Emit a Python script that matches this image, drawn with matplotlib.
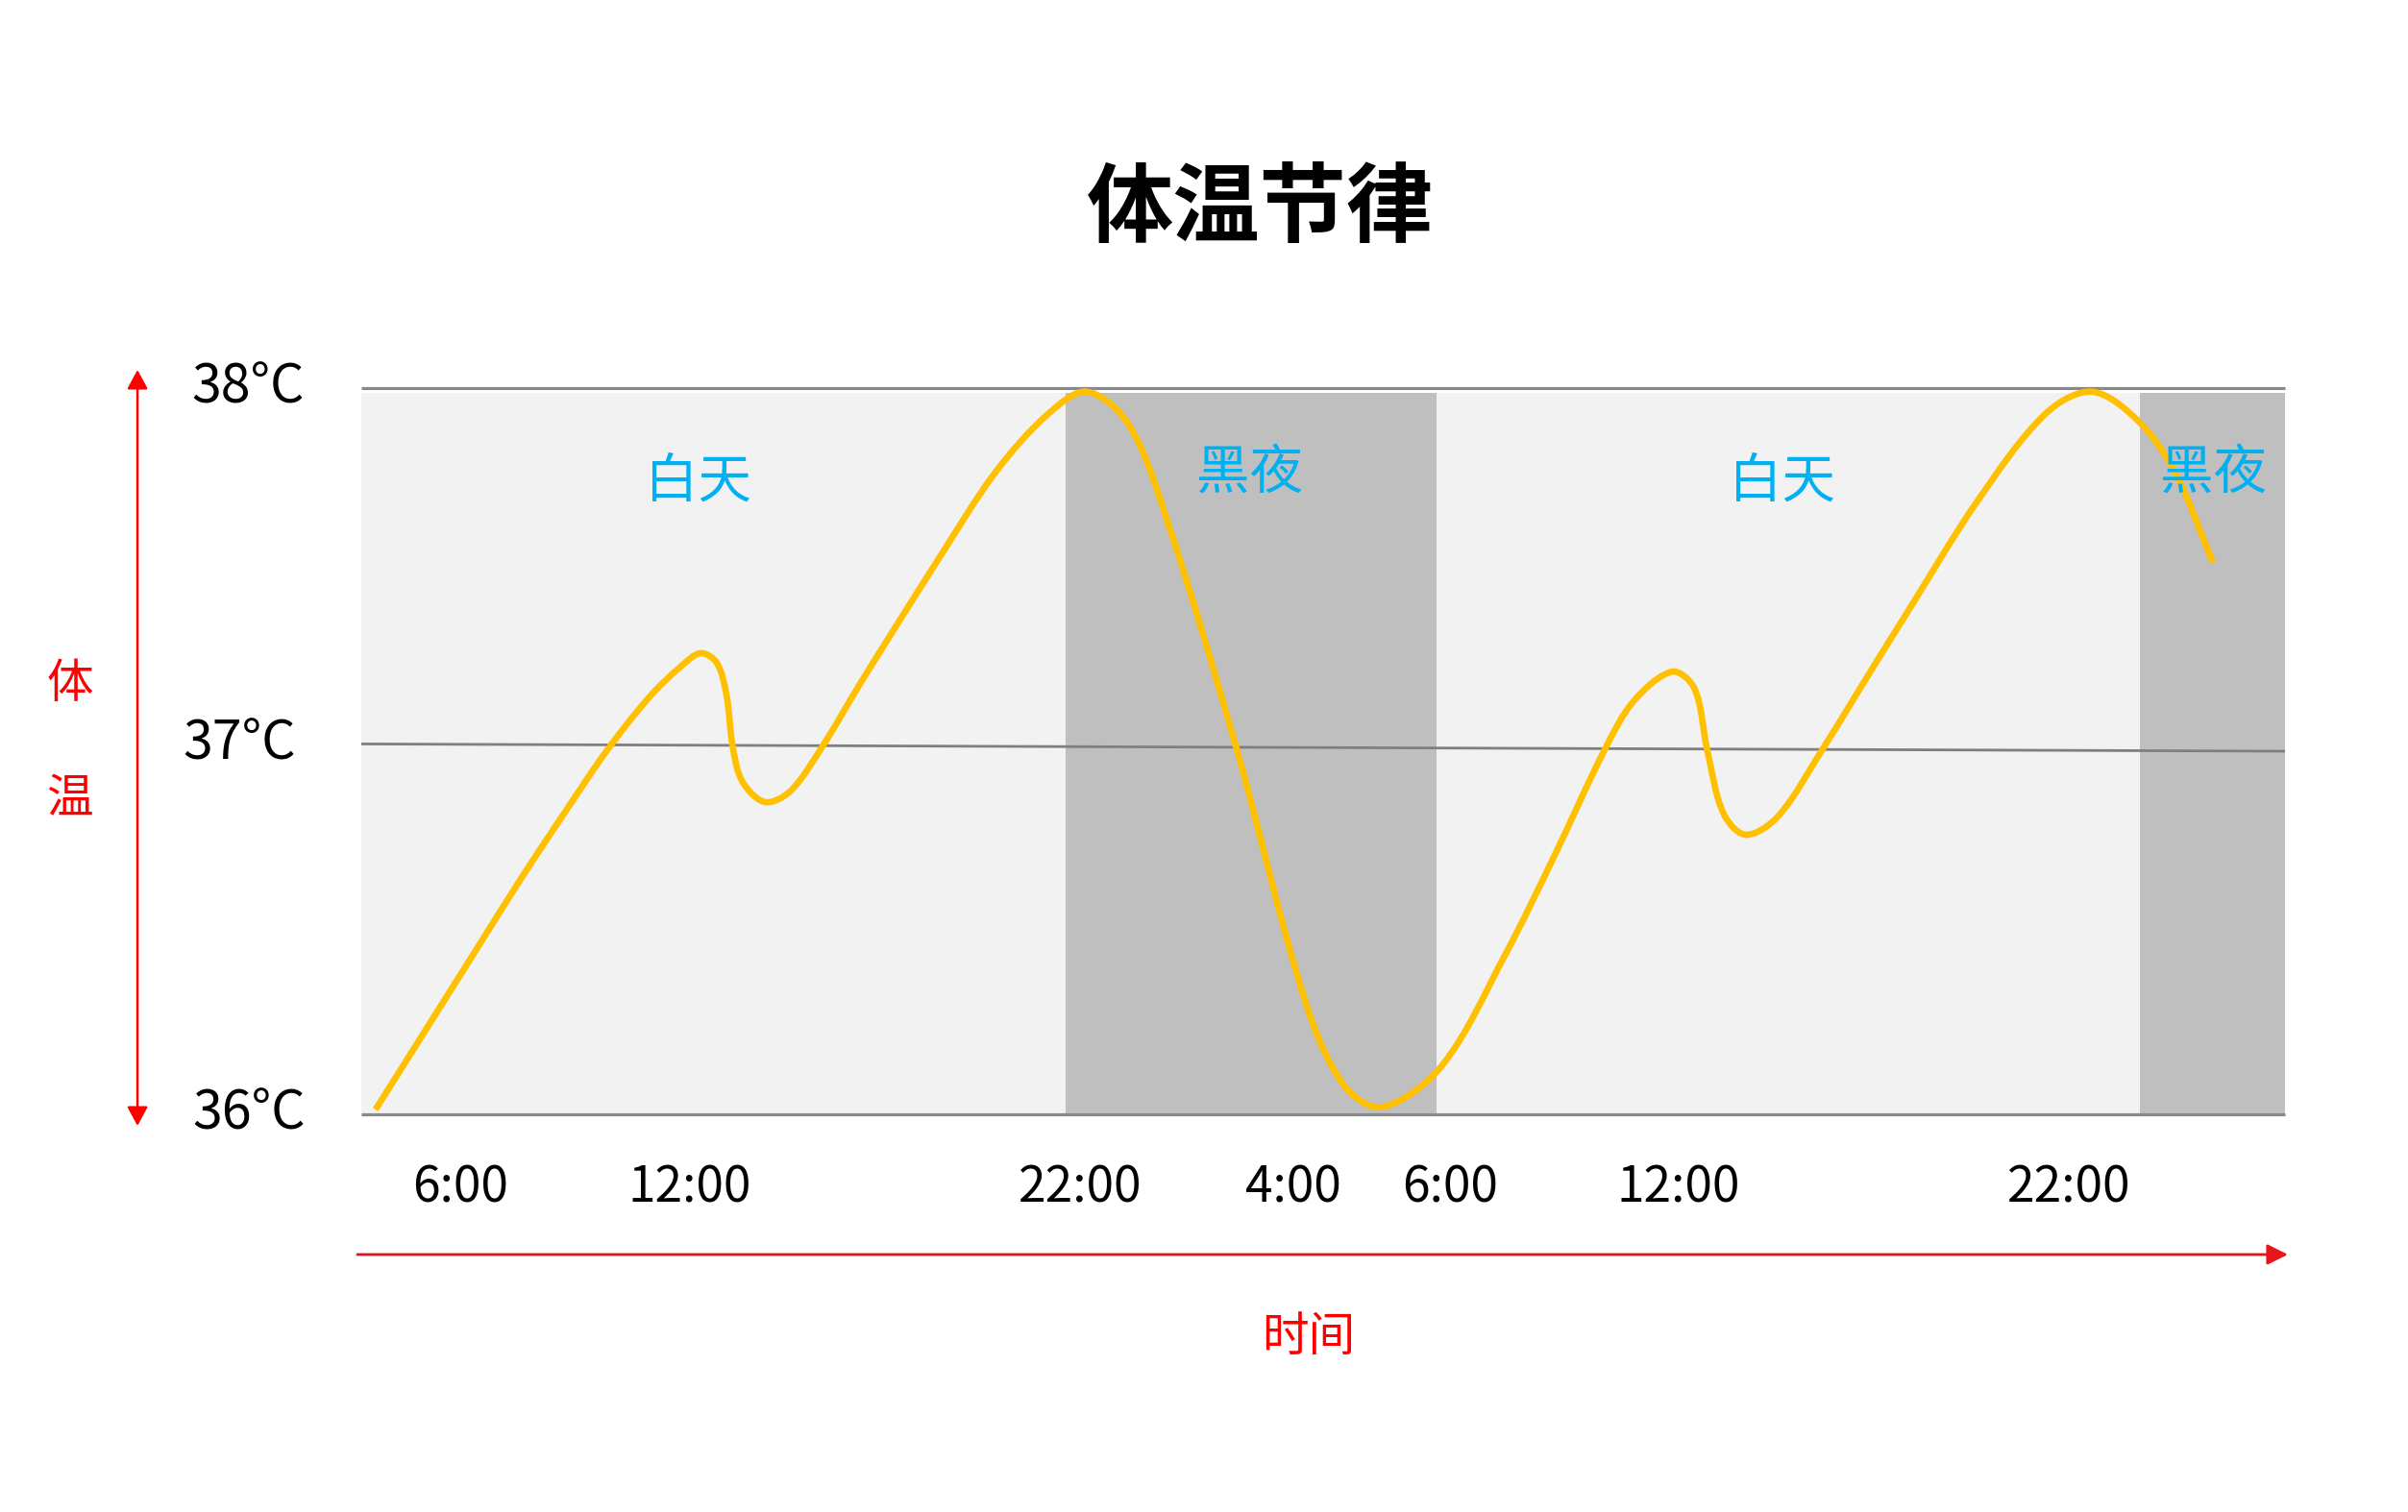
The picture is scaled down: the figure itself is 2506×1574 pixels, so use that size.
import numpy as np
import matplotlib
matplotlib.use('Agg')
import matplotlib.pyplot as plt
from matplotlib.path import Path
from matplotlib.patches import PathPatch, FancyArrowPatch

plt.rcParams['font.family'] = ['Noto Sans CJK SC', 'DejaVu Sans']

## 曲线关键点 (小时, 体温)
curve_hours = [3.80, 5.09, 6.34, 7.59, 8.84, 9.84, 10.93, 11.76, 12.26, 12.68,
               12.93, 13.09, 13.34, 13.93, 14.59, 15.43, 16.43, 18.45, 19.94, 21.31,
               22.31, 23.39, 24.38, 26.19, 27.99, 28.99, 29.98, 31.525, 33.19, 34.44,
               35.78, 36.53, 37.53, 38.11, 38.44, 38.86, 39.44, 40.28, 41.44, 42.78,
               43.61, 45.48, 47.25, 48.45, 49.65, 50.6, 51.6]
curve_temp = [36.013, 36.23, 36.44, 36.65, 36.85, 37.005, 37.15, 37.235, 37.27, 37.243,
              37.155, 37.014, 36.917, 36.86, 36.89, 37.014, 37.19, 37.53, 37.77, 37.93,
              37.99, 37.90, 37.64, 37.01, 36.31, 36.08, 36.02, 36.132, 36.44, 36.706,
              37.005, 37.138, 37.219, 37.173, 37.005, 36.83, 36.77, 36.82, 37.005, 37.235,
              37.376, 37.69, 37.93, 37.99, 37.91, 37.77, 37.52]

tick_hours = [6, 11.98, 22.13, 27.68, 31.75, 37.7, 47.85]
tick_labels = ['6:00', '12:00', '22:00', '4:00', '6:00', '12:00', '22:00']

night_start = [21.75, 49.7]
night_end = [31.4, 53.475]

temp_values = [38, 37.02, 36]
temp_labels = ['38°C', '37°C', '36°C']

period_labels = ['白天', '黑夜', '白天', '黑夜']
period_hours = [12.18, 26.55, 40.38, 51.62]
period_temp = [37.74, 37.765, 37.74, 37.765]

mid_temp = [37.02, 37.0]

x_lim = (3.43, 53.475)

fig = plt.figure(figsize=(25.06, 15.74), dpi=100)
ax = fig.add_axes([0.15004, 0.26302, 0.7989, 0.4803])
ax.set_xlim(*x_lim)
ax.set_ylim(36, 38)

# fond
ax.axvspan(x_lim[0], x_lim[1], ymin=0, ymax=0.994, color='#f2f2f2', lw=0, zorder=0)
for s, e in zip(night_start, night_end):
    ax.axvspan(s, e, ymin=0, ymax=0.994, color='#bfbfbf', lw=0, zorder=1)

# lignes horizontales
ax.hlines([36, 38], x_lim[0], x_lim[1], color='#898989', lw=2.3, zorder=2, clip_on=False)
ax.plot(x_lim, mid_temp, color='#7f7f7f', lw=2.0, zorder=2)

# courbe lissée : Catmull-Rom cordal -> Bezier
pts = np.column_stack([curve_hours, curve_temp])
scale = np.array([40.0, 378.0])  # à peu près px par unité
seg = np.linalg.norm(np.diff(pts * scale, axis=0), axis=1)
n = len(pts)
tang = np.empty_like(pts)
tang[0] = (pts[1] - pts[0]) / seg[0]
tang[-1] = (pts[-1] - pts[-2]) / seg[-1]
for i in range(1, n - 1):
    tang[i] = (pts[i + 1] - pts[i - 1]) / (seg[i - 1] + seg[i])

verts = [pts[0]]
codes = [Path.MOVETO]
for i in range(n - 1):
    verts += [pts[i] + tang[i] * seg[i] / 3, pts[i + 1] - tang[i + 1] * seg[i] / 3, pts[i + 1]]
    codes += [Path.CURVE4] * 3
ax.add_patch(PathPatch(Path(verts, codes), facecolor='none', edgecolor='#ffc000',
                       lw=4.8, capstyle='butt', zorder=3, clip_on=False))

for lab, hh, t in zip(period_labels, period_hours, period_temp):
    ax.text(hh, t, lab, color='#00b0f0', fontsize=40, ha='center', va='center', zorder=4)

# axes
ax.set_xticks(tick_hours, tick_labels)
ax.set_yticks([])
ax.tick_params(axis='x', length=0, pad=36, labelsize=37)
for sp in ax.spines.values():
    sp.set_visible(False)

ytr = ax.get_yaxis_transform()
label_x = [-0.0295, -0.034, -0.029]
for lx, t, lab in zip(label_x, temp_values, temp_labels):
    ax.text(lx, t, lab, transform=ytr, fontsize=40, ha='right', va='center', clip_on=False)

fig.text(0.5231, 0.8615, '体温节律', fontsize=65, fontweight='bold', ha='center', va='center')
fig.text(0.0291, 0.5477, '体', fontsize=35, color='red', ha='center', va='center')
fig.text(0.0291, 0.4714, '温', fontsize=35, color='red', ha='center', va='center')
fig.text(0.5435, 0.1156, '时间', fontsize=35, color='red', ha='center', va='center')

fig.add_artist(FancyArrowPatch((0.0571, 0.2554), (0.0571, 0.7554), transform=fig.transFigure,
                               arrowstyle='<|-|>,head_length=12,head_width=6.5',
                               color='red', lw=1.8, mutation_scale=1, shrinkA=0, shrinkB=0))
fig.add_artist(FancyArrowPatch((0.1484, 0.1703), (0.9501, 0.1703), transform=fig.transFigure,
                               arrowstyle='-|>,head_length=13,head_width=6.5',
                               color='#e8141c', lw=2.0, mutation_scale=1, shrinkA=0, shrinkB=0))

fig.savefig('out.png', dpi=100)
